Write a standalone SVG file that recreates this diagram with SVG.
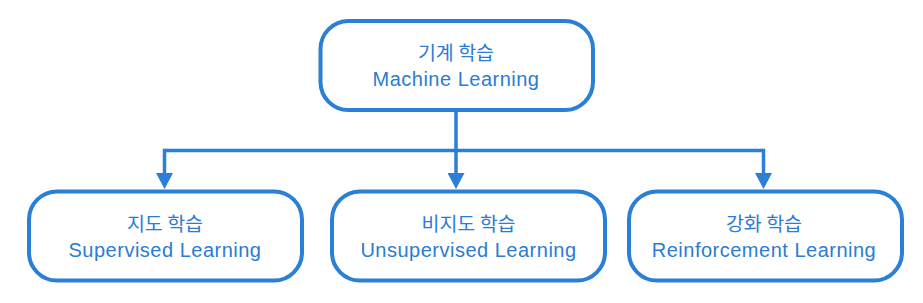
<svg xmlns="http://www.w3.org/2000/svg" width="923" height="303" viewBox="0 0 923 303">
  <style>
    .box { fill: #ffffff; stroke: #2A7FD6; stroke-width: 4; }
    .ko { font-family: "Noto Sans CJK KR", "Noto Sans", sans-serif; font-size: 19.5px; fill: #2A7CD4; text-anchor: middle; }
    .en { font-family: "Liberation Sans", Arial, sans-serif; font-size: 20px; letter-spacing: 0.5px; fill: #2A7CD4; text-anchor: middle; }
    .conn { fill: none; stroke: #2A7FD6; stroke-width: 3.5; }
  </style>
  <defs>
    <marker id="arrow" markerUnits="userSpaceOnUse" markerWidth="17" markerHeight="17" refX="0" refY="8.5" orient="auto" viewBox="0 0 16 17">
      <path d="M0,0 L16,8.5 L0,17 z" fill="#2A7FD6"/>
    </marker>
  </defs>
  <rect width="923" height="303" fill="#ffffff"/>
  <g id="connectors">
    <path class="conn" d="M164.5,150.5 H763.5"/>
    <path class="conn" d="M456,112 V173" marker-end="url(#arrow)"/>
    <path class="conn" d="M164.5,148.75 V173" marker-end="url(#arrow)"/>
    <path class="conn" d="M763.5,148.75 V173" marker-end="url(#arrow)"/>
  </g>
  <g id="machine-learning">
    <rect class="box" x="320.5" y="21" width="272.5" height="89" rx="28"/>
    <text class="ko" x="456" y="59.5">기계 학습</text>
    <text class="en" x="456" y="85.7">Machine Learning</text>
  </g>
  <g id="supervised">
    <rect class="box" x="29" y="191.5" width="273" height="89" rx="28"/>
    <text class="ko" x="165" y="231">지도 학습</text>
    <text class="en" x="165" y="257">Supervised Learning</text>
  </g>
  <g id="unsupervised">
    <rect class="box" x="332" y="191.5" width="273" height="89" rx="28"/>
    <text class="ko" x="468.5" y="231">비지도 학습</text>
    <text class="en" x="468.5" y="257">Unsupervised Learning</text>
  </g>
  <g id="reinforcement">
    <rect class="box" x="629" y="191.5" width="273" height="89" rx="28"/>
    <text class="ko" x="764" y="231">강화 학습</text>
    <text class="en" x="764" y="257">Reinforcement Learning</text>
  </g>
</svg>
